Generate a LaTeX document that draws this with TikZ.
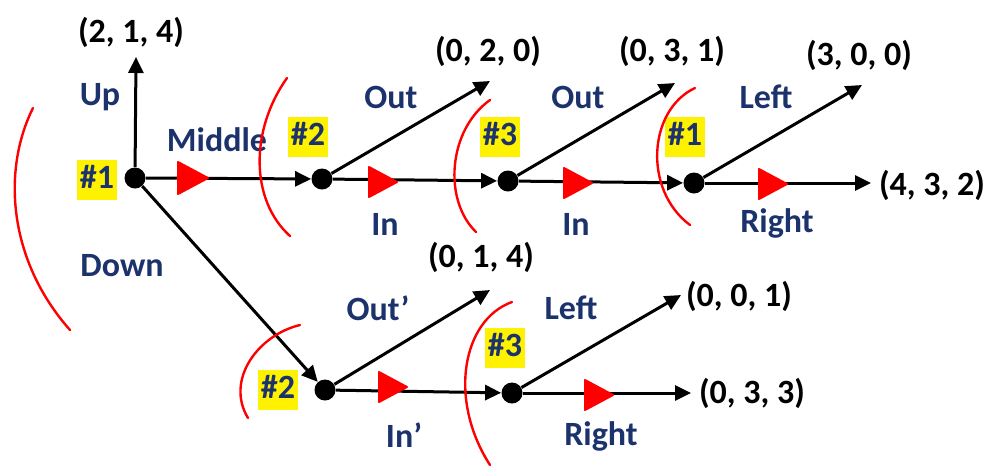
\documentclass[tikz,border=0pt]{standalone}
\usepackage{fontspec}
\setmainfont{Carlito}
\usetikzlibrary{arrows.meta}
\definecolor{navy}{RGB}{28,50,108}
\begin{document}
\begin{tikzpicture}[x=0.5pt,y=-0.5pt,
 dot/.style={circle,fill=black,inner sep=0,minimum size=10.5pt},
 edge/.style={line width=1.5pt,-{Triangle[length=8pt,width=7.5pt]}},
 lab/.style={font=\fontsize{17}{20}\selectfont\bfseries,text=navy,inner sep=0},
 pay/.style={font=\fontsize{17}{20}\selectfont\bfseries,text=black,inner sep=0},
 pl/.style={lab,fill=yellow,inner xsep=1.5pt,inner ysep=2pt,text height=12pt,text depth=4pt},
 arcline/.style={red,line width=1.2pt,line cap=round},
 redtri/.pic={\fill[red,draw=red,line width=1pt,line join=round] (-13,-15) -- (15,0) -- (-13,15) -- cycle;},
 bigtri/.pic={\fill[red,draw=red,line width=1pt,line join=round] (-14,-16) -- (16,0) -- (-14,16) -- cycle;}
]
\useasboundingbox (0,0) rectangle (990,467);

% decision nodes
\node[dot] (n1) at (135,178) {};
\node[dot] (n2) at (322,179) {};
\node[dot] (n3) at (508,181) {};
\node[dot] (n4) at (694,183) {};
\node[dot] (n5) at (325,390) {};
\node[dot] (n6) at (512,393) {};

% terminal points
\coordinate (u) at (136,57);
\coordinate (o1) at (490,81);
\coordinate (o2) at (675,83);
\coordinate (l1) at (862,85);
\coordinate (r1) at (871,183);
\coordinate (o3) at (490,290);
\coordinate (l2) at (681,295);
\coordinate (r2) at (691,393);

% edges
\draw[edge] (n1) -- (u);
\draw[edge] (n1) -- (n2);
\draw[edge] (n1) -- (n5);
\draw[edge] (n2) -- (o1);
\draw[edge] (n2) -- (n3);
\draw[edge] (n3) -- (o2);
\draw[edge] (n3) -- (n4);
\draw[edge] (n4) -- (l1);
\draw[edge] (n4) -- (r1);
\draw[edge] (n5) -- (o3);
\draw[edge] (n5) -- (n6);
\draw[edge] (n6) -- (l2);
\draw[edge] (n6) -- (r2);

% payoffs
\node[pay] (p1) at (131,32) {(2, 1, 4)};
\node[pay] (p2) at (488,51) {(0, 2, 0)};
\node[pay] (p3) at (672,51) {(0, 3, 1)};
\node[pay] (p4) at (859,55) {(3, 0, 0)};
\node[pay] (p5) at (932,185) {(4, 3, 2)};
\node[pay] (p6) at (481,257) {(0, 1, 4)};
\node[pay] (p7) at (739,296) {(0, 0, 1)};
\node[pay] (p8) at (752,393) {(0, 3, 3)};

% action labels
\node[lab] (aUp) at (100,97) {Up};
\node[lab] (aMid) at (217,140) {Middle};
\node[lab] (aDown) at (122,266) {Down};
\node[lab] (aOut1) at (391,97) {Out};
\node[lab] (aIn1) at (385,224) {In};
\node[lab] (aOut2) at (578,97) {Out};
\node[lab] (aIn2) at (576,224) {In};
\node[lab] (aLeft1) at (766,97) {Left};
\node[lab] (aRight1) at (777,223) {Right};
\node[lab] (aOut3) at (378,308) {Out’};
\node[lab] (aIn3) at (404,435) {In’};
\node[lab] (aLeft2) at (571,308) {Left};
\node[lab] (aRight2) at (601,436) {Right};

% player labels
\node[pl] (pl1) at (97,180) {\#1};
\node[pl] (pl2) at (308,137) {\#2};
\node[pl] (pl3) at (500,137) {\#3};
\node[pl] (pl4) at (685,137) {\#1};
\node[pl] (pl5) at (278,390) {\#2};
\node[pl] (pl6) at (505,348) {\#3};

% red arcs
\draw[arcline] (33,108) .. controls (2,170) and (8,260) .. (70,330);
\draw[arcline] (287,78) .. controls (250,130) and (250,200) .. (290,236);
\draw[arcline] (490,100) .. controls (448,130) and (443,200) .. (476,232);
\draw[arcline] (695,88) .. controls (648,110) and (643,190) .. (690,225);
\draw[arcline] (300,325) .. controls (258,335) and (225,380) .. (248,418);
\draw[arcline] (512,302) .. controls (462,320) and (448,400) .. (490,465);

% red triangles
\pic at (192,178) {bigtri};
\pic at (382,182) {redtri};
\pic at (577,183) {redtri};
\pic at (772,184) {redtri};
\pic at (392,387) {redtri};
\pic at (598,395) {redtri};
\end{tikzpicture}
\end{document}
